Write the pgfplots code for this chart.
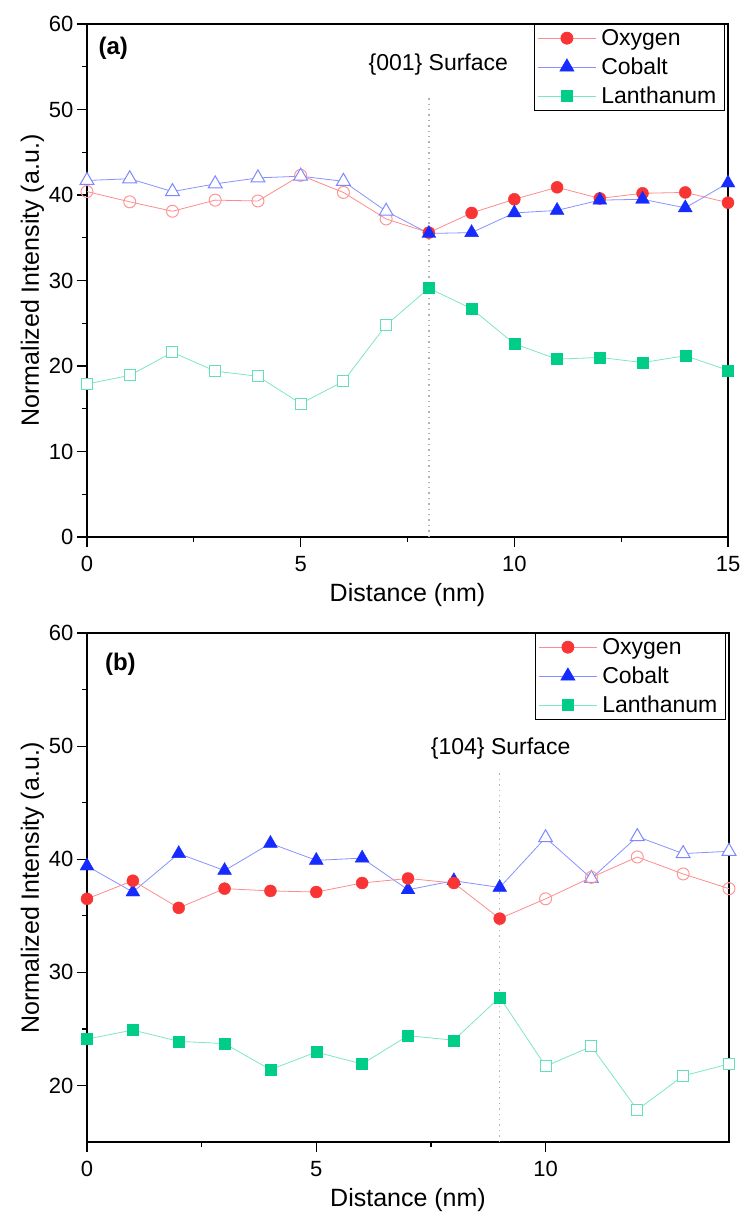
\documentclass[border=0pt]{standalone}
\usepackage{fontspec}
\setmainfont{Liberation Sans}
\usepackage{pgfplots}
\pgfplotsset{compat=1.18}
\definecolor{oxyM}{RGB}{248,52,52}
\definecolor{oxyL}{RGB}{255,140,140}
\definecolor{oxyH}{RGB}{255,150,150}
\definecolor{coM}{RGB}{22,44,255}
\definecolor{coL}{RGB}{135,145,255}
\definecolor{coH}{RGB}{125,135,255}
\definecolor{laM}{RGB}{0,205,135}
\definecolor{laL}{RGB}{125,230,195}
\definecolor{laH}{RGB}{100,225,180}
\newcommand{\fs}[1]{\fontsize{#1}{#1}\selectfont}
\pgfplotsset{
  myaxis/.style={
    scale only axis,
    anchor=south west,
    axis line style={line width=1.3pt},
    tick align=outside,
    xtick pos=bottom, ytick pos=left,
    major tick length=10pt, minor tick length=5pt,
    every tick/.style={black, line width=1.2pt},
    minor tick num=1,
    /pgf/number format/assume math mode=true,
    tick label style={font=\fs{22}},
    xticklabel style={yshift=-6pt},
    xlabel={Distance (nm)}, ylabel={Normalized Intensity (a.u.)},
    label style={font=\fs{25}},
    xlabel style={yshift=-4pt},
    ylabel style={yshift=-2pt},
    legend cell align=left,
    legend style={font=\fs{23}, draw=black, line width=0.8pt, inner sep=3pt, row sep=7pt,
      at={(rel axis cs:0.995,1)}, anchor=north east,
      nodes={inner xsep=5pt}},
    legend image code/.code={\draw[mark repeat=2,mark phase=2] plot coordinates {(0pt,0pt)(29pt,0pt)(58pt,0pt)};},
  },
  surf/.style={gray!60, line width=1.4pt, dash pattern=on 1.4pt off 4pt, forget plot},
  lineO/.style={oxyL, line width=0.8pt, no markers, forget plot},
  lineC/.style={coL, line width=0.8pt, no markers, forget plot},
  lineL/.style={laL, line width=0.8pt, no markers, forget plot},
  fO/.style={only marks, mark=*, mark size=6pt, mark options={draw=oxyM, fill=oxyM}, forget plot},
  hO/.style={only marks, mark=o, mark size=6pt, mark options={draw=oxyH, fill=white, line width=1pt}, forget plot},
  fC/.style={only marks, mark=triangle*, mark size=8pt, mark options={draw=coM, fill=coM}, forget plot},
  hC/.style={only marks, mark=triangle*, mark size=8pt, mark options={draw=coH, fill=white, line width=1pt}, forget plot},
  fL/.style={only marks, mark=square*, mark size=5.5pt, mark options={draw=laM, fill=laM}, forget plot},
  hL/.style={only marks, mark=square*, mark size=5.5pt, mark options={draw=laH, fill=white, line width=1pt}, forget plot},
}
\begin{document}
\begin{tikzpicture}
\useasboundingbox (0pt,0pt) rectangle (740pt,-1214pt);
% ---------------- (a) ----------------
\begin{axis}[myaxis, at={(87pt,-537pt)}, width=641pt, height=513pt,
  xmin=0, xmax=15, ymin=0, ymax=60,
  xtick={0,5,10,15}, ytick={0,10,20,30,40,50,60}]
\addplot[surf] coordinates {(8,0) (8,51.7)};
\node[font=\fs{23}] at (axis cs:8.22,55.2) {\{001\} Surface};
\node[font=\bfseries\fs{24}] at (rel axis cs:0.041,0.953) {(a)};
% Lanthanum
\addplot[lineL] coordinates {(0,17.9)(1,18.9)(2,21.6)(3,19.4)(4,18.8)(5,15.6)(6,18.2)(7,24.8)(8,29.1)(9,26.7)(10,22.6)(11,20.8)(12,21.0)(13,20.4)(14,21.2)(15,19.5)};
\addplot[hL] coordinates {(0,17.9)(1,18.9)(2,21.6)(3,19.4)(4,18.8)(5,15.6)(6,18.2)(7,24.8)};
\addplot[fL] coordinates {(8,29.1)(9,26.7)(10,22.6)(11,20.8)(12,21.0)(13,20.4)(14,21.2)(15,19.5)};
% Oxygen
\addplot[lineO] coordinates {(0,40.4)(1,39.2)(2,38.1)(3,39.4)(4,39.3)(5,42.3)(6,40.3)(7,37.2)(8,35.6)(9,37.9)(10,39.5)(11,40.9)(12,39.6)(13,40.2)(14,40.3)(15,39.1)};
\addplot[hO] coordinates {(0,40.4)(1,39.2)(2,38.1)(3,39.4)(4,39.3)(5,42.3)(6,40.3)(7,37.2)};
\addplot[fO] coordinates {(8,35.6)(9,37.9)(10,39.5)(11,40.9)(12,39.6)(13,40.2)(14,40.3)(15,39.1)};
% Cobalt
\addplot[lineC] coordinates {(0,41.7)(1,41.9)(2,40.4)(3,41.3)(4,42.0)(5,42.2)(6,41.6)(7,38.1)(8,35.5)(9,35.6)(10,37.9)(11,38.2)(12,39.4)(13,39.5)(14,38.5)(15,41.4)};
\addplot[hC] coordinates {(0,41.7)(1,41.9)(2,40.4)(3,41.3)(4,42.0)(5,42.2)(6,41.6)(7,38.1)};
\addplot[fC] coordinates {(8,35.5)(9,35.6)(10,37.9)(11,38.2)(12,39.4)(13,39.5)(14,38.5)(15,41.4)};
\addlegendimage{oxyL, line width=0.8pt, mark=*, mark size=6pt, mark options={draw=oxyM, fill=oxyM}}
\addlegendentry{Oxygen}
\addlegendimage{coL, line width=0.8pt, mark=triangle*, mark size=8pt, mark options={draw=coM, fill=coM}}
\addlegendentry{Cobalt}
\addlegendimage{laL, line width=0.8pt, mark=square*, mark size=5.5pt, mark options={draw=laM, fill=laM}}
\addlegendentry{Lanthanum}
\end{axis}
% ---------------- (b) ----------------
\begin{axis}[myaxis, at={(87pt,-1142pt)}, width=642pt, height=509pt,
  xmin=0, xmax=14, ymin=15, ymax=60,
  xtick={0,5,10}, ytick={20,30,40,50,60}]
\addplot[surf] coordinates {(9,15) (9,47.6)};
\node[font=\fs{23}] at (axis cs:9.02,49.8) {\{104\} Surface};
\node[font=\bfseries\fs{24}] at (rel axis cs:0.052,0.939) {(b)};
% Lanthanum
\addplot[lineL] coordinates {(0,24.1)(1,24.9)(2,23.9)(3,23.7)(4,21.4)(5,22.95)(6,21.9)(7,24.4)(8,24.0)(9,27.8)(10,21.7)(11,23.45)(12,17.85)(13,20.85)(14,21.9)};
\addplot[fL] coordinates {(0,24.1)(1,24.9)(2,23.9)(3,23.7)(4,21.4)(5,22.95)(6,21.9)(7,24.4)(8,24.0)(9,27.8)};
\addplot[hL] coordinates {(10,21.7)(11,23.45)(12,17.85)(13,20.85)(14,21.9)};
% Cobalt
\addplot[lineC] coordinates {(0,39.4)(1,37.1)(2,40.5)(3,39.0)(4,41.4)(5,39.9)(6,40.1)(7,37.3)(8,38.1)(9,37.5)(10,41.9)(11,38.3)(12,42.0)(13,40.5)(14,40.7)};
\addplot[fC] coordinates {(0,39.4)(1,37.1)(2,40.5)(3,39.0)(4,41.4)(5,39.9)(6,40.1)(7,37.3)(8,38.1)(9,37.5)};
\addplot[hC] coordinates {(10,41.9)(11,38.3)(12,42.0)(13,40.5)(14,40.7)};
% Oxygen
\addplot[lineO] coordinates {(0,36.5)(1,38.1)(2,35.7)(3,37.4)(4,37.2)(5,37.1)(6,37.9)(7,38.3)(8,37.9)(9,34.75)(10,36.5)(11,38.4)(12,40.2)(13,38.7)(14,37.4)};
\addplot[fO] coordinates {(0,36.5)(1,38.1)(2,35.7)(3,37.4)(4,37.2)(5,37.1)(6,37.9)(7,38.3)(8,37.9)(9,34.75)};
\addplot[hO] coordinates {(10,36.5)(11,38.4)(12,40.2)(13,38.7)(14,37.4)};
\addlegendimage{oxyL, line width=0.8pt, mark=*, mark size=6pt, mark options={draw=oxyM, fill=oxyM}}
\addlegendentry{Oxygen}
\addlegendimage{coL, line width=0.8pt, mark=triangle*, mark size=8pt, mark options={draw=coM, fill=coM}}
\addlegendentry{Cobalt}
\addlegendimage{laL, line width=0.8pt, mark=square*, mark size=5.5pt, mark options={draw=laM, fill=laM}}
\addlegendentry{Lanthanum}
\end{axis}
\end{tikzpicture}
\end{document}
